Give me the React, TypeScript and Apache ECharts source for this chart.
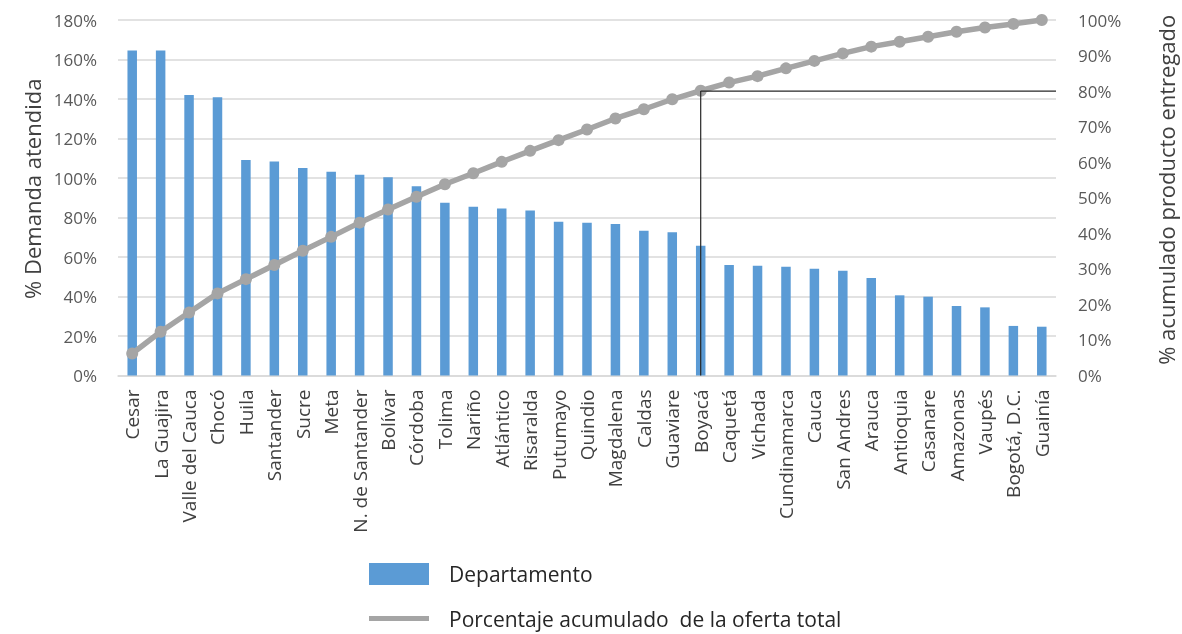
import React, { useEffect, useRef } from "react";
import * as echarts from "echarts";

const categories = [
  "Cesar", "La Guajira", "Valle del Cauca", "Chocó", "Huila", "Santander", "Sucre", "Meta",
  "N. de Santander", "Bolívar", "Córdoba", "Tolima", "Nariño", "Atlántico", "Risaralda",
  "Putumayo", "Quindio", "Magdalena", "Caldas", "Guaviare", "Boyacá", "Caquetá", "Vichada",
  "Cundinamarca", "Cauca", "San Andres", "Arauca", "Antioquia", "Casanare", "Amazonas",
  "Vaupés", "Bogotá, D.C.", "Guainía",
];

// % Demanda atendida (left axis)
const demandaAtendida = [
  164.5, 164.5, 142.0, 140.9, 109.1, 108.3, 105.1, 103.2, 101.7, 100.4, 95.8, 87.5, 85.5, 84.5,
  83.6, 77.9, 77.4, 76.7, 73.3, 72.5, 65.7, 55.9, 55.6, 55.1, 54.1, 53.1, 49.4, 40.6, 39.9, 35.2,
  34.5, 25.1, 24.7,
];

// % acumulado (right axis)
const acumulado = [
  6.2, 12.3, 17.7, 23.1, 27.1, 31.1, 35.1, 39.0, 43.0, 46.7, 50.3, 53.8, 56.9, 60.1, 63.2, 66.2,
  69.2, 72.3, 74.9, 77.7, 80.1, 82.4, 84.2, 86.4, 88.5, 90.6, 92.5, 93.9, 95.3, 96.7, 97.9, 98.9,
  100,
];

const leftAxis = { min: 0, max: 180, interval: 20 };
const rightAxis = { min: 0, max: 100, interval: 10 };
const refCategory = "Boyacá";
const refLevel = 80;

const barName = "Departamento";
const lineName = "Porcentaje acumulado  de la oferta total";

export default function App() {
  const ref = useRef<HTMLDivElement>(null);

  useEffect(() => {
    const chart = echarts.init(ref.current!, null, { renderer: "svg" });
    const font = "'Open Sans', 'Liberation Sans', sans-serif";
    chart.setOption({
      animation: false,
      textStyle: { fontFamily: font },
      grid: { left: 118, right: 126, top: 20, bottom: 258.5, containLabel: false, outerBoundsMode: "none" },
      legend: {
        orient: "vertical",
        left: 364,
        top: 558,
        height: 120,
        itemWidth: 60,
        itemHeight: 22,
        itemGap: 23,
        textStyle: { fontFamily: font, fontSize: 21, color: "#262626", padding: [0, 0, 0, 15] },
        data: [
          { name: barName, icon: "rect" },
          { name: lineName, icon: "path://M0,0 L60,0 L60,5 L0,5 Z" },
        ],
      },
      xAxis: {
        type: "category",
        data: categories,
        axisLine: { lineStyle: { color: "#D9D9D9", width: 1.5 } },
        axisTick: { show: false },
        axisLabel: {
          rotate: 90,
          interval: 0,
          margin: 14,
          fontSize: 19,
          color: "#404040",
          fontFamily: font,
        },
      },
      yAxis: [
        {
          type: "value",
          ...leftAxis,
          name: "% Demanda atendida",
          nameLocation: "middle",
          nameRotate: 90,
          nameGap: 70,
          nameTextStyle: { fontSize: 22, color: "#404040", fontFamily: font, padding: [0, 0, 0, 18] },
          axisLine: { show: false },
          axisTick: { show: false },
          splitLine: { lineStyle: { color: "#D9D9D9", width: 1.5 } },
          axisLabel: { formatter: (v: number) => `${v}%`, fontSize: 17, color: "#595959", margin: 21, fontFamily: font },
        },
        {
          type: "value",
          ...rightAxis,
          position: "right",
          name: "% acumulado producto entregado",
          nameLocation: "middle",
          nameRotate: 90,
          nameGap: 99,
          nameTextStyle: { fontSize: 22, color: "#404040", fontFamily: font, padding: [0, 0, 0, 16] },
          axisLine: { show: false },
          axisTick: { show: false },
          splitLine: { show: false },
          axisLabel: { formatter: (v: number) => `${v}%`, fontSize: 17, color: "#595959", margin: 22, fontFamily: font },
        },
      ],
      series: [
        {
          name: barName,
          type: "bar",
          data: demandaAtendida,
          barWidth: 9.5,
          itemStyle: { color: "#5B9BD5" },
          yAxisIndex: 0,
        },
        {
          name: lineName,
          type: "line",
          data: acumulado,
          yAxisIndex: 1,
          symbol: "circle",
          symbolSize: 12,
          lineStyle: { color: "#A5A5A5", width: 5.5 },
          itemStyle: { color: "#A5A5A5" },
          z: 3,
        },
      ],
    });

    const xRef = chart.convertToPixel({ xAxisIndex: 0 }, refCategory) as number;
    const xFirst = chart.convertToPixel({ xAxisIndex: 0 }, categories[0]) as number;
    const xLast = chart.convertToPixel({ xAxisIndex: 0 }, categories[categories.length - 1]) as number;
    const band = (xLast - xFirst) / (categories.length - 1);
    const xRight = xLast + band / 2;
    const yBase = chart.convertToPixel({ yAxisIndex: 0 }, 0) as number;
    const yRef = chart.convertToPixel({ yAxisIndex: 1 }, refLevel) as number;

    chart.setOption({
      graphic: [
        { type: "line", z: 10, shape: { x1: xRef, y1: yBase, x2: xRef, y2: yRef }, style: { stroke: "#262626", lineWidth: 1.2 } },
        { type: "line", z: 10, shape: { x1: xRef, y1: yRef, x2: xRight, y2: yRef }, style: { stroke: "#262626", lineWidth: 1.2 } },
      ],
    });

    return () => chart.dispose();
  }, []);

  return <div ref={ref} style={{ position: "fixed", left: 0, top: 0, width: 1182, height: 634 }} />;
}
